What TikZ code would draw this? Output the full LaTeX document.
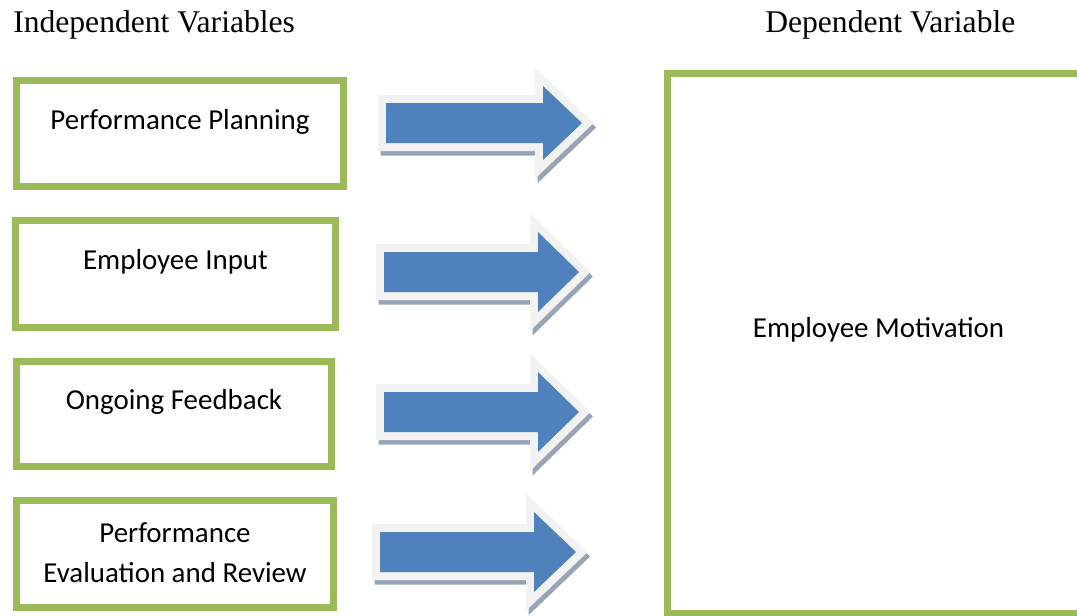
\documentclass[tikz,border=0pt]{standalone}
\usepackage{fontspec}
\setmainfont{Liberation Serif}
\newfontfamily\calibri{Carlito}
\definecolor{boxgreen}{RGB}{155,187,89}
\definecolor{arrowblue}{RGB}{79,129,189}
\definecolor{arrowrim}{RGB}{242,242,242}
\definecolor{arrowshade}{RGB}{150,164,181}
\tikzset{
  varbox/.style={draw=boxgreen, line width=4.9pt},
  heading/.style={anchor=base west, inner sep=0pt, font=\fontsize{23.7}{28}\selectfont},
  boxtext/.style={anchor=base, inner sep=0pt, font=\calibri\fontsize{21.7}{30}\selectfont},
  arrowshadow/.style={fill=arrowshade, draw=arrowshade, line width=12pt, line join=miter},
  arrowborder/.style={fill=arrowrim, draw=arrowrim, line width=12pt, line join=miter},
  arrowbody/.style={fill=arrowblue},
}
% block arrow: #1 left end, #2 head base, #3 tip, #4 centre line, #5 head half height
\newcommand\blockarrow[5]{%
  \path[arrowshadow, shift={(2.5,4.5)}] (#1,#4-20) -- (#2,#4-20) -- (#2,#4-#5) -- (#3,#4)
    -- (#2,#4+#5) -- (#2,#4+20) -- (#1,#4+20) -- cycle;
  \path[arrowborder] (#1,#4-20) -- (#2,#4-20) -- (#2,#4-#5) -- (#3,#4)
    -- (#2,#4+#5) -- (#2,#4+20) -- (#1,#4+20) -- cycle;
  \path[arrowbody] (#1,#4-20) -- (#2,#4-20) -- (#2,#4-#5) -- (#3,#4)
    -- (#2,#4+#5) -- (#2,#4+20) -- (#1,#4+20) -- cycle;
}
\begin{document}
\begin{tikzpicture}[x=0.75pt, y=-0.75pt]
  \useasboundingbox (0,0) rectangle (1077,615);
  \clip (0,0) rectangle (1077,615);

  % headings
  \node[heading] (indep) at (13,32) {Independent Variables};
  \node[heading] (dep) at (765,32) {Dependent Variable};

  % independent variable boxes
  \draw[varbox] (16.5,80.5) rectangle (343.5,186.5);
  \node[boxtext] (plan) at (180,129) {Performance Planning};

  \draw[varbox] (15.5,220.5) rectangle (335.5,327.5);
  \node[boxtext] (input) at (175.5,269) {Employee Input};

  \draw[varbox] (16.5,361.5) rectangle (331.5,466.5);
  \node[boxtext] (feedback) at (174,409) {Ongoing Feedback};

  \draw[varbox] (16.5,500.5) rectangle (333.5,607.5);
  \node[boxtext] (eval1) at (175,542) {Performance};
  \node[boxtext] (eval2) at (175,582) {Evaluation and Review};

  % dependent variable box
  \draw[varbox] (667.5,73.5) rectangle (1090,613.5);
  \node[boxtext] (motiv) at (878.5,337) {Employee Motivation};

  % arrows
  \blockarrow{386}{543}{582}{123}{37}
  \blockarrow{384}{538}{579}{272}{40}
  \blockarrow{384}{538}{579}{412}{40}
  \blockarrow{380}{534}{576}{552}{40}
\end{tikzpicture}
\end{document}
